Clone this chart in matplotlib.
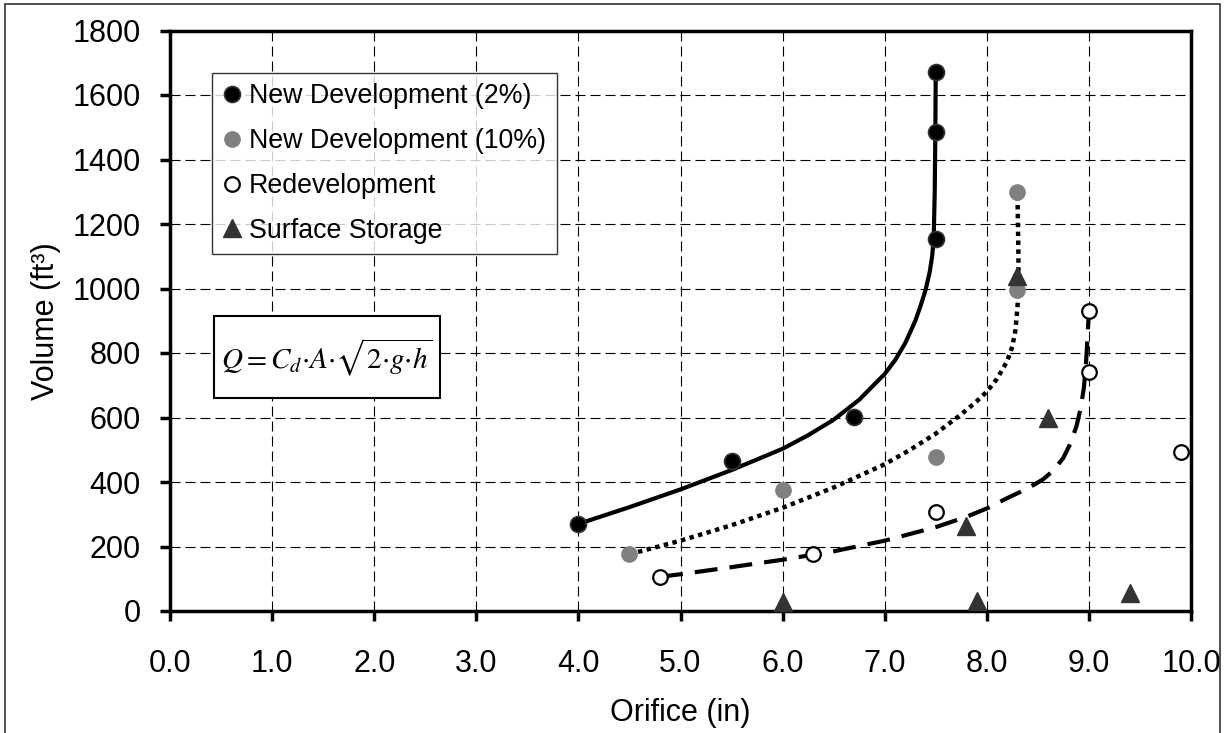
import numpy as np
import matplotlib
matplotlib.use('Agg')
import matplotlib.pyplot as plt
from matplotlib.patches import Rectangle
from matplotlib.ticker import FormatStrFormatter

plt.rcParams['font.family'] = ['Liberation Sans', 'DejaVu Sans']
plt.rcParams['mathtext.fontset'] = 'stix'

# measured points
nd2_x = [4.0, 5.5, 6.7, 7.5, 7.5, 7.5]
nd2_y = [270, 465, 602, 1155, 1486, 1672]
nd10_x = [4.5, 6.0, 7.5, 8.3, 8.3]
nd10_y = [176, 375, 478, 995, 1298]
redev_x = [4.8, 6.3, 7.5, 9.0, 9.0, 9.9]
redev_y = [106, 177, 306, 742, 931, 494]
surf_x = [6.0, 7.8, 7.9, 8.3, 8.6, 9.4]
surf_y = [28, 263, 32, 1040, 600, 55]

# fitted curves
fit2_x = [4.0, 4.5, 5.0, 5.5, 6.0, 6.25, 6.5, 6.75, 7.0, 7.1, 7.2, 7.3, 7.35, 7.4, 7.44, 7.465, 7.48, 7.49, 7.495, 7.5]
fit2_y = [270, 322, 377, 437, 503, 545, 593, 655, 735, 777, 830, 900, 945, 995, 1050, 1100, 1155, 1300, 1450, 1672]
fit10_x = [4.5, 5.0, 5.5, 6.0, 6.5, 7.0, 7.25, 7.5, 7.75, 7.9, 8.0, 8.1, 8.2, 8.25, 8.28, 8.3, 8.31, 8.31, 8.305, 8.3]
fit10_y = [176, 218, 266, 320, 383, 455, 500, 550, 610, 650, 680, 720, 775, 820, 870, 940, 1000, 1100, 1200, 1300]
fitre_x = [4.8, 5.0, 5.5, 6.0, 6.5, 7.0, 7.5, 7.8, 8.0, 8.2, 8.4, 8.55, 8.65, 8.75, 8.82, 8.88, 8.92, 8.95, 8.97, 8.985, 9.0]
fitre_y = [106, 114, 136, 159, 185, 218, 260, 292, 318, 350, 380, 408, 435, 475, 520, 575, 630, 690, 760, 840, 930]

labels = ['New Development (2%)', 'New Development (10%)', 'Redevelopment', 'Surface Storage']

fig = plt.figure(figsize=(12.25, 7.33), dpi=100)
ax = fig.add_axes([170 / 1225, 1 - 611 / 733, 1021 / 1225, 580.5 / 733])

ax.plot(fit2_x, fit2_y, color='black', lw=3.0, solid_capstyle='butt', zorder=3)
ax.plot(fit10_x, fit10_y, color='black', lw=3.2, linestyle=(0, (1, 1)), zorder=3)
ax.plot(fitre_x, fitre_y, color='black', lw=3.0, linestyle=(0, (5.5, 2.9)), zorder=3)

ax.plot(nd2_x, nd2_y, 'o', ms=11.5, mfc='black', mec='#333333', mew=1.2, label=labels[0], zorder=4, clip_on=False)
ax.plot(nd10_x, nd10_y, 'o', ms=11, mfc='#808080', mec='#808080', label=labels[1], zorder=4, clip_on=False)
ax.plot(redev_x, redev_y, 'o', ms=10.5, mfc='white', mec='black', mew=1.6, label=labels[2], zorder=4, clip_on=False)
ax.plot(surf_x, surf_y, '^', ms=13, mfc='#333333', mec='#333333', label=labels[3], zorder=4, clip_on=False)

ax.set_xlim(0, 10)
ax.set_ylim(0, 1800)
ax.set_xticks(np.arange(0, 10.1, 1.0))
ax.set_yticks(np.arange(0, 1801, 200))
ax.xaxis.set_major_formatter(FormatStrFormatter('%.1f'))
ax.grid(True, color='black', lw=0.8, linestyle=(0, (9, 4.5)))
ax.set_axisbelow(True)

for s in ax.spines.values():
    s.set_linewidth(2.5)
ax.tick_params(axis='both', direction='out', length=7, width=2.5, labelsize=22)
ax.tick_params(axis='x', pad=20)
ax.tick_params(axis='y', pad=14)

ax.set_xlabel('Orifice (in)', fontsize=22, labelpad=14)
ax.set_ylabel('Volume (ft³)', fontsize=22, labelpad=8)

leg = ax.legend(loc='upper left', bbox_to_anchor=(41.7 / 1021, (611 - 72.7) / 580.5),
                fontsize=19.3, frameon=True, fancybox=False, handlelength=0.7,
                handletextpad=0.3, labelspacing=0.7, borderpad=0.4,
                borderaxespad=0, numpoints=1)
leg.get_frame().set_edgecolor('black')
leg.get_frame().set_linewidth(1.0)

# equation box
ax.add_patch(Rectangle((44 / 1021, (611 - 398) / 580.5), 226 / 1021, 82 / 580.5,
                       transform=ax.transAxes, facecolor='white', edgecolor='black',
                       lw=1.5, zorder=5))
ax.text((327 - 170) / 1021, (611 - 357) / 580.5,
        r'$Q = C_d{\cdot}A{\cdot}\sqrt{2{\cdot}g{\cdot}h}$',
        transform=ax.transAxes, ha='center', va='center', fontsize=21, zorder=6)

# outer border
fig.patches.append(Rectangle((5 / 1225, -0.01), 1215 / 1225, 1 - 4 / 733 + 0.01,
                             transform=fig.transFigure, fill=False,
                             edgecolor='#333333', lw=1.2))

fig.savefig('out.png', dpi=100)
